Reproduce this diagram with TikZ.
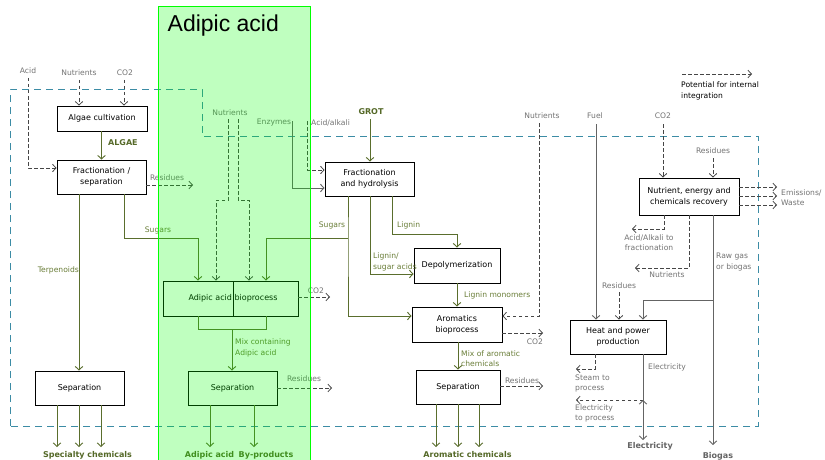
\documentclass[tikz,border=0pt]{standalone}
\usepackage{fontspec}
\setmainfont{DejaVu Sans}
\newfontfamily\titlefont{Liberation Sans}
\usetikzlibrary{arrows.meta}
\definecolor{olv}{RGB}{90,110,45}
\definecolor{olvtext}{RGB}{105,125,55}
\definecolor{olvbold}{RGB}{85,105,40}
\definecolor{gryline}{RGB}{100,100,100}
\definecolor{grytext}{RGB}{115,115,115}
\definecolor{potline}{RGB}{70,70,70}
\definecolor{bound}{RGB}{60,140,165}
\definecolor{panelgreen}{RGB}{0,255,0}
\begin{document}
\begin{tikzpicture}[x=1pt,y=-1pt,
  tip/.style={-{Straight Barb[length=3.5pt,width=7.5pt]}},
  box/.style={draw=black, fill=white, line width=0.9pt, align=center, inner sep=0pt,
    font=\fontsize{8}{11}\selectfont},
  flow/.style={draw=olv, line width=0.9pt, tip},
  flowline/.style={draw=olv, line width=0.9pt},
  eflow/.style={draw=gryline, line width=0.9pt, tip},
  pot/.style={draw=potline, line width=0.8pt, dash pattern=on 3.5pt off 2.5pt, tip},
  boundary/.style={draw=bound, line width=1pt, dash pattern=on 7pt off 5pt},
  lbl/.style={font=\fontsize{7.6}{10.5}\selectfont, inner sep=0pt, align=left},
  glbl/.style={lbl, text=grytext},
  olbl/.style={lbl, text=olvtext},
  blbl/.style={font=\fontsize{8}{9}\selectfont\bfseries, inner sep=0pt, text=olvbold},
  gblbl/.style={font=\fontsize{8}{9}\selectfont\bfseries, inner sep=0pt, text=gryline}]
\useasboundingbox (0,0) rectangle (825,460);
\fill[white] (0,0) rectangle (825,460);

% system boundary
\draw[boundary] (10,426) -- (10,90) -- (202,90) -- (202,136) -- (758,136) -- (758,426) -- cycle;

% process units
\node[box, minimum width=90pt, minimum height=25pt] (algae) at (102,118.5) {Algae cultivation};
\node[box, minimum width=89pt, minimum height=34pt] (fs) at (101.5,177) {Fractionation /\\separation};
\node[box, minimum width=89pt, minimum height=34pt] (sepL) at (79.5,388) {Separation};
\node[box, minimum width=70pt, minimum height=35pt] (adA) at (198,298.5) {};
\node[box, minimum width=65pt, minimum height=35pt] (adB) at (265.5,298.5) {};
\node[font=\fontsize{8}{10}\selectfont, inner sep=0pt] (adtxt) at (233,298) {Adipic acid bioprocess};
\node[box, minimum width=89pt, minimum height=34pt] (sepG) at (232.5,388) {Separation};
\node[box, minimum width=89pt, minimum height=34pt] (fh) at (369.5,179) {Fractionation\\and hydrolysis};
\node[box, minimum width=86pt, minimum height=35pt] (depol) at (457,265.5) {Depolymerization};
\node[box, minimum width=90pt, minimum height=35pt] (arom) at (457,324.5) {Aromatics\\bioprocess};
\node[box, minimum width=84pt, minimum height=34pt] (sepR) at (458,387) {Separation};
\node[box, minimum width=100pt, minimum height=37pt] (rec) at (689,196.5) {Nutrient, energy and\\chemicals recovery};
\node[box, minimum width=96pt, minimum height=34pt] (hp) at (618,337) {Heat and power\\production};

% junctions and free ends
\coordinate (nutL) at (79,80);
\coordinate (co2L) at (124,80);
\coordinate (acidT) at (28,78);
\coordinate (acidJ) at (28,168);
\coordinate (resFS) at (193,185);
\coordinate (sugL) at (124,238);
\coordinate (tX) at (79,200);
\coordinate (n1) at (228,119);
\coordinate (n1b) at (228,200);
\coordinate (n1c) at (216,200);
\coordinate (n2) at (238,119);
\coordinate (n2b) at (238,200);
\coordinate (n2c) at (249,200);
\coordinate (enz) at (292,121);
\coordinate (enzJ) at (292,188);
\coordinate (aa) at (307,121);
\coordinate (aaJ) at (307,170);
\coordinate (grotT) at (370,119);
\coordinate (sR) at (348,238);
\coordinate (sR2) at (348,316);
\coordinate (lsa) at (370,274);
\coordinate (lg) at (392,234);
\coordinate (coA) at (543,333);
\coordinate (nR) at (539,123);
\coordinate (nRJ) at (539,316);
\coordinate (rR) at (543,386);
\coordinate (a1) at (436,447);
\coordinate (a2) at (458,447);
\coordinate (a3) at (479,447);
\coordinate (s1) at (57,447);
\coordinate (s2) at (79,447);
\coordinate (s3) at (101,447);
\coordinate (mA) at (198,329);
\coordinate (mB) at (266,329);
\coordinate (mC) at (232,329);
\coordinate (coB) at (330,297);
\coordinate (g1) at (210,447);
\coordinate (g2) at (254,447);
\coordinate (rG) at (332,388);
\coordinate (fuelT) at (596,124);
\coordinate (coR) at (663,124);
\coordinate (resR) at (713,158);
\coordinate (e1) at (777,187);
\coordinate (e2) at (777,196);
\coordinate (e3) at (777,205);
\coordinate (aaR) at (664,229);
\coordinate (aaRend) at (632,229);
\coordinate (nuR) at (689,268);
\coordinate (nuRend) at (635,268);
\coordinate (rg) at (713,300);
\coordinate (rgB) at (713,445);
\coordinate (rgH) at (643,300);
\coordinate (resH) at (619,292);
\coordinate (st) at (595,369);
\coordinate (stEnd) at (576,369);
\coordinate (elB) at (643,440);
\coordinate (elJ) at (643,400);
\coordinate (elJ2) at (643,413);
\coordinate (elEnd) at (576,400);
\coordinate (lg1) at (682,74);
\coordinate (lg2) at (752,74);

% algae route
\draw[pot] (nutL) -- (nutL |- algae.north);
\draw[pot] (co2L) -- (co2L |- algae.north);
\draw[pot] (acidT) -- (acidJ) -- (acidJ -| fs.west);
\draw[flow] (algae.south -| 101.5,0) -- (fs.north -| 101.5,0);
\draw[pot] (fs.east |- resFS) -- (resFS);
\draw[flow] (fs.south -| sugL) -- (sugL) -| (adA.north);
\draw[flow] (fs.south -| tX) -- (sepL.north -| tX);
\draw[flow] (sepL.south -| s1) -- (s1);
\draw[flow] (sepL.south -| s2) -- (s2);
\draw[flow] (sepL.south -| s3) -- (s3);

% adipic acid route
\draw[pot] (n1) -- (n1b) -- (n1c) -- (n1c |- adA.north);
\draw[pot] (n2) -- (n2b) -- (n2c) -- (n2c |- adB.north);
\draw[flowline] (adA.south) -- (mA) -- (mB) -- (adB.south -| mB);
\draw[flow] (mC) -- (sepG.north -| mC);
\draw[pot] (adB.east |- coB) -- (coB);
\draw[flow] (sepG.south -| g1) -- (g1);
\draw[flow] (sepG.south -| g2) -- (g2);
\draw[pot] (sepG.east |- rG) -- (rG);

% forest residue route
\draw[eflow] (enz) -- (enzJ) -- (enzJ -| fh.west);
\draw[pot] (aa) -- (aaJ) -- (aaJ -| fh.west);
\draw[flow] (grotT) -- (grotT |- fh.north);
\draw[flow] (fh.south -| sR) -- (sR) -- (sR2) -- (sR2 -| arom.west);
\draw[flow] (sR) -| (adB.north -| mB);
\draw[flow] (fh.south -| lsa) -- (lsa) -- (lsa -| depol.west);
\draw[flow] (fh.south -| lg) -- (lg) -| (depol.north);
\draw[flow] (depol) -- (arom);
\draw[flow] (arom.south -| a2) -- (sepR.north -| a2);
\draw[pot] (arom.east |- coA) -- (coA);
\draw[pot] (nR) -- (nRJ) -- (nRJ -| arom.east);
\draw[pot] (sepR.east |- rR) -- (rR);
\draw[flow] (sepR.south -| a1) -- (a1);
\draw[flow] (sepR.south -| a2) -- (a2);
\draw[flow] (sepR.south -| a3) -- (a3);

% utilities
\draw[eflow] (fuelT) -- (fuelT |- hp.north);
\draw[pot] (coR) -- (coR |- rec.north);
\draw[pot] (resR) -- (resR |- rec.north);
\draw[pot] (rec.east |- e1) -- (e1);
\draw[pot] (rec.east |- e2) -- (e2);
\draw[pot] (rec.east |- e3) -- (e3);
\draw[pot] (rec.south -| aaR) -- (aaR) -- (aaRend);
\draw[pot] (rec.south -| nuR) -- (nuR) -- (nuRend);
\draw[eflow] (rec.south -| rg) -- (rgB);
\draw[eflow] (rg) -- (rgH) -- (rgH |- hp.north);
\draw[pot] (resH) -- (resH |- hp.north);
\draw[pot] (hp.south -| st) -- (st) -- (stEnd);
\draw[eflow] (hp.south -| elB) -- (elB);
\draw[pot] (elJ) -- (elEnd);
\draw[eflow] (elJ2) -- (elJ);

% legend
\draw[pot] (lg1) -- (lg2);
\node[lbl, anchor=north west, text=black] (legtxt) at (681,82) {Potential for internal\\integration};

% labels
\node[glbl] (tAcid) at (28,71) {Acid};
\node[glbl] (tNutL) at (79,73) {Nutrients};
\node[glbl] (tCO2L) at (125,73) {CO2};
\node[blbl, anchor=west] (tAlgae) at (108,143) {ALGAE};
\node[glbl] (tResFS) at (167,178) {Residues};
\node[olbl] (tSugL) at (158,230) {Sugars};
\node[olbl, anchor=east] (tTerp) at (79,270) {Terpenoids};
\node[glbl] (tNutP) at (230,113) {Nutrients};
\node[glbl] (tEnz) at (274,123) {Enzymes};
\node[glbl, anchor=west] (tAA) at (311,123) {Acid/alkali};
\node[blbl] (tGrot) at (371,112) {GROT};
\node[olbl] (tSugR) at (332,225) {Sugars};
\node[olbl, anchor=west] (tLig) at (397,225) {Lignin};
\node[olbl, anchor=west] (tLsa) at (373,262) {Lignin/\\sugar acids};
\node[olbl, anchor=west] (tLm) at (464,295) {Lignin monomers};
\node[olbl, anchor=west] (tMixA) at (461,358.5) {Mix of aromatic\\chemicals};
\node[glbl] (tCO2A) at (535,342) {CO2};
\node[glbl] (tResA) at (522,381) {Residues};
\node[glbl] (tNutR) at (542,116) {Nutrients};
\node[glbl] (tFuel) at (595,116) {Fuel};
\node[glbl] (tCO2R) at (663,116) {CO2};
\node[glbl] (tResR) at (713,151) {Residues};
\node[glbl, anchor=west] (tEm) at (781,197.5) {Emissions/\\Waste};
\node[glbl, align=center] (tAAR) at (649,242.5) {Acid/Alkali to\\fractionation};
\node[glbl] (tNuR) at (667,275) {Nutrients};
\node[glbl, anchor=west] (tRaw) at (716,262) {Raw gas\\or biogas};
\node[glbl] (tResH) at (619,286) {Residues};
\node[glbl, anchor=west] (tSteam) at (575,383.5) {Steam to\\process};
\node[glbl, anchor=west] (tEl) at (648,367) {Electricity};
\node[glbl, anchor=west] (tElP) at (575,413.5) {Electricity\\to process};
\node[gblbl] (tElOut) at (650,446) {Electricity};
\node[gblbl] (tBio) at (718,456) {Biogas};
\node[blbl] (tSpec) at (87.5,455) {Specialty chemicals};
\node[blbl] (tAdOut) at (209.5,455) {Adipic acid};
\node[blbl] (tBy) at (266,455) {By-products};
\node[blbl] (tArOut) at (467.5,455) {Aromatic chemicals};
\node[olbl, anchor=west] (tMixC) at (235,348) {Mix containing\\Adipic acid};
\node[glbl] (tResG) at (304,379) {Residues};
\node[glbl] (tCO2B) at (316,291) {CO2};

% adipic acid panel laid over the flows
\fill[panelgreen, fill opacity=0.25] (158,7) rectangle (310,462);
\draw[panelgreen, line width=1pt] (158,462) -- (158,7) -- (310,7) -- (310,462);
\node[font=\titlefont\fontsize{23}{25}\selectfont, anchor=west, inner sep=0pt] (title) at (167.5,26) {Adipic acid};
\end{tikzpicture}
\end{document}
